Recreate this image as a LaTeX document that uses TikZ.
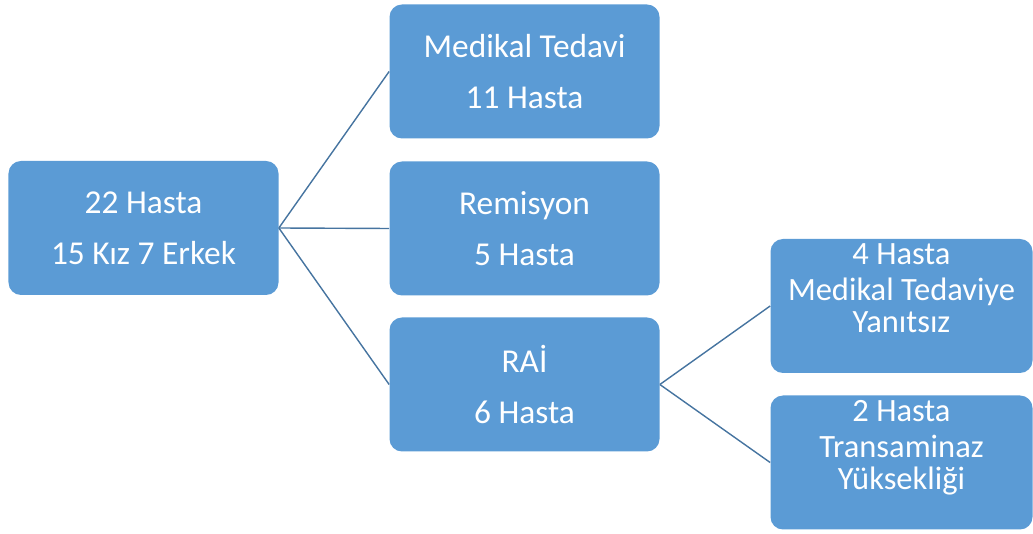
\documentclass[tikz,border=0pt]{standalone}
\usepackage{fontspec}
\setmainfont{Carlito}
\definecolor{kutu}{RGB}{91, 155, 213}
\definecolor{cizgi}{RGB}{70, 116, 160}
\newcommand{\darsatir}{\fontsize{18.5}{18}\selectfont\lineskiplimit-20pt\relax}
\tikzset{
  hasta/.style={rectangle, rounded corners=0.25cm, fill=kutu, text=white, align=center,
    minimum width=5.4cm, minimum height=2.68cm, inner sep=0pt,
    font=\fontsize{19}{28.9}\selectfont},
  dar/.style={hasta, minimum width=5.24cm, font=\darsatir},
  bag/.style={draw=cizgi, line width=0.8pt}
}

\begin{document}
\begin{tikzpicture}
  \useasboundingbox (0, 0) rectangle (20.66, 10.68);

  \node[hasta] (toplam)   at (2.87, 6.12)  {22 Hasta\\15 Kız 7 Erkek};
  \node[hasta] (medikal)  at (10.49, 9.25) {Medikal Tedavi\\11 Hasta};
  \node[hasta] (remisyon) at (10.49, 6.11) {Remisyon\\5 Hasta};
  \node[hasta] (rai)      at (10.49, 2.99) {RAİ\\6 Hasta};

  % sag taraf, yazi kutunun ustune yakin
  \node[dar] (yanitsiz)    at (18.03, 4.56) {4 Hasta\\[2.4pt]Medikal Tedaviye\\Yanıtsız\\[2.2pt]\mbox{}};
  \node[dar] (transaminaz) at (18.03, 1.43) {2 Hasta\\[2.4pt]Transaminaz\\Yüksekliği\\[2.2pt]\mbox{}};

  \draw[bag] (toplam.east) -- (medikal.west);
  \draw[bag] (toplam.east) -- (remisyon.west);
  \draw[bag] (toplam.east) -- (rai.west);
  \draw[bag] (rai.east) -- (yanitsiz.west);
  \draw[bag] (rai.east) -- (transaminaz.west);
\end{tikzpicture}
\end{document}
